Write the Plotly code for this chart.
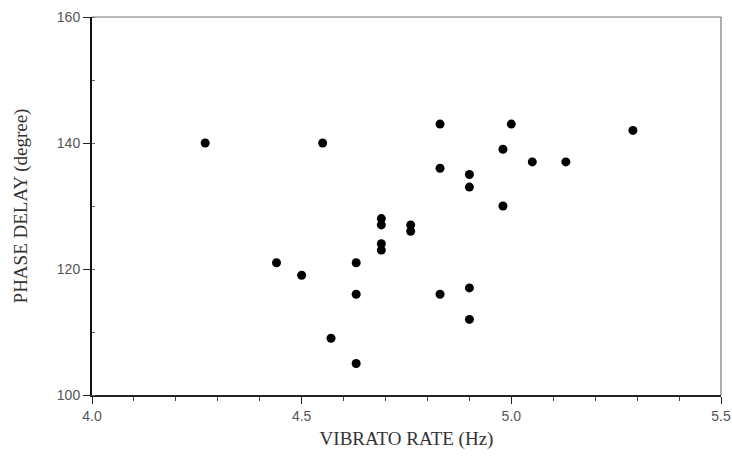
import plotly.graph_objects as go

# Vibrato rate (Hz) and phase delay (degree) for each measured tone
vibrato_rate = [4.27, 4.44, 4.50, 4.55, 4.57, 4.63, 4.63, 4.63,
                4.69, 4.69, 4.69, 4.69, 4.76, 4.76,
                4.83, 4.83, 4.83, 4.90, 4.90, 4.90, 4.90,
                4.98, 4.98, 5.00, 5.05, 5.13, 5.29]
phase_delay = [140, 121, 119, 140, 109, 121, 116, 105,
               128, 127, 124, 123, 127, 126,
               143, 136, 116, 135, 133, 117, 112,
               139, 130, 143, 137, 137, 142]

x_ticks = [4.0, 4.5, 5.0, 5.5]
x_tick_labels = ["4.0", "4.5", "5.0", "5.5"]
y_ticks = [100, 120, 140, 160]

tick_font = dict(family="Liberation Sans, Arial, sans-serif", size=14, color="#555")
title_font = dict(family="Liberation Serif, Times New Roman, serif", size=19, color="#333")

fig = go.Figure(
    go.Scatter(
        x=vibrato_rate,
        y=phase_delay,
        mode="markers",
        marker=dict(size=9, color="black"),
        hoverinfo="x+y",
    )
)

fig.update_layout(
    width=732,
    height=461,
    margin=dict(l=92, r=11, t=17, b=66),
    paper_bgcolor="white",
    plot_bgcolor="white",
    showlegend=False,
)

fig.update_xaxes(
    range=[4.0, 5.5],
    tickvals=x_ticks,
    ticktext=x_tick_labels,
    ticks="outside",
    ticklen=7,
    tickwidth=1,
    tickcolor="#222",
    minor=dict(dtick=0.1, tick0=4.0, ticks="outside", ticklen=4, tickcolor="#444", showgrid=False),
    showgrid=False,
    zeroline=False,
    showline=True,
    linecolor="#222",
    linewidth=1.5,
    tickfont=tick_font,
    automargin=False,
    title=dict(text="VIBRATO RATE (Hz)", font=title_font, standoff=9),
)

fig.update_yaxes(
    range=[100, 160],
    tickvals=y_ticks,
    ticks="outside",
    ticklen=7,
    tickwidth=1,
    tickcolor="#222",
    minor=dict(dtick=10, tick0=100, ticks="inside", ticklen=3, tickcolor="#666", showgrid=False),
    showgrid=False,
    zeroline=False,
    showline=True,
    linecolor="#111",
    linewidth=2,
    tickfont=tick_font,
    automargin=False,
    title=dict(text="PHASE DELAY (degree)", font=title_font, standoff=24),
)

# Thin grey top and right edges of the frame
fig.add_shape(type="line", xref="x domain", yref="y domain",
              x0=0, x1=1, y0=1, y1=1, line=dict(color="#777", width=1))
fig.add_shape(type="line", xref="x domain", yref="y domain",
              x0=1, x1=1, y0=0, y1=1, line=dict(color="#777", width=1.2))

fig.write_html("out.html")
